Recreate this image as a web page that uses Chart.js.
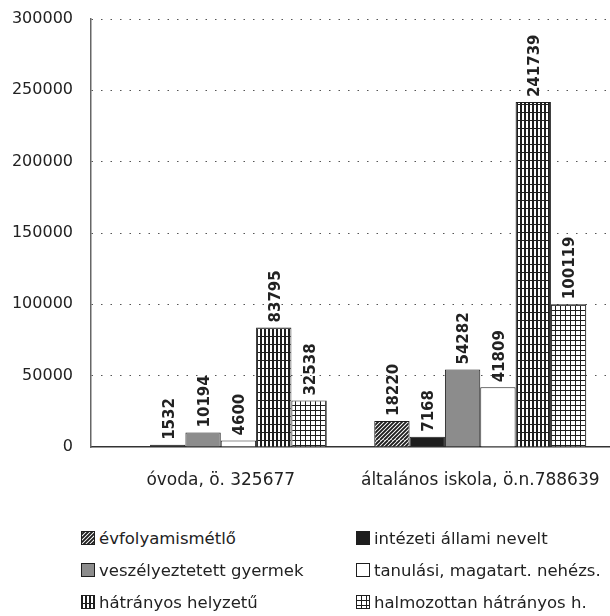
<!DOCTYPE html>
<html lang="hu">
<head>
  <meta charset="UTF-8">
  <title>Óvoda és általános iskola</title>
  <script src="https://cdn.jsdelivr.net/npm/chart.js"></script>
  <style>
    html, body { margin: 0; background: #fff; font-family: "DejaVu Sans", sans-serif; color: #222; overflow: hidden; }
    #wrap { position: relative; width: 610px; height: 616px; overflow: hidden; }
    #box { position: absolute; left: 0; top: 0; width: 610px; height: 500px; }
    #legend { position: absolute; left: 81px; top: 522px; display: grid; grid-template-columns: 275px auto; grid-auto-rows: 32px; font-size: 16.5px; }
    #legend div { display: flex; align-items: center; white-space: nowrap; }
    #legend canvas { width: 14px; height: 14px; margin-right: 4px; }
  </style>
</head>
<body>
  <div id="wrap">
    <div id="box"><canvas id="chart"></canvas></div>
    <div id="legend"></div>
  </div>

  <script>
    const categories = ["óvoda, ö. 325677", "általános iskola, ö.n.788639"];
    const seriesNames = ["évfolyamismétlő", "intézeti állami nevelt", "veszélyeztetett gyermek",
                         "tanulási, magatart. nehézs.", "hátrányos helyzetű", "halmozottan hátrányos h."];
    const evfolyam = [null, 18220];
    const intezeti = [1532, 7168];
    const veszelyez = [10194, 54282];
    const tanulasi = [4600, 41809];
    const hatranyos = [83795, 241739];
    const halmozott = [32538, 100119];
    const yTicks = [0, 50000, 100000, 150000, 200000, 250000, 300000];

    // kitöltési minták (sraffozás)
    function fillTile(kind, g, w, h) {
      g.fillStyle = kind === 'black' ? '#1e1e1e' : kind === 'gray' ? '#8c8c8c' : '#fff';
      g.fillRect(0, 0, w, h);
      g.strokeStyle = '#1e1e1e';
      g.fillStyle = '#1e1e1e';
      if (kind === 'diag') {
        g.lineWidth = 1.9;
        g.beginPath();
        for (let k = -w; k <= w * 2; k += 4) { g.moveTo(k, h); g.lineTo(k + h, 0); }
        g.stroke();
      } else if (kind === 'vert') {
        for (let x = 0; x < w; x += 4) g.fillRect(x, 0, 2, h);
        for (let y = 0; y < h; y += 8) g.fillRect(0, y, w, 1);
      } else if (kind === 'grid') {
        for (let x = 0; x < w; x += 5) g.fillRect(x, 0, 1, h);
        for (let y = 0; y < h; y += 5) g.fillRect(0, y, w, 1);
      }
    }
    function makePattern(kind) {
      const c = document.createElement('canvas');
      c.width = 40; c.height = 40;
      fillTile(kind, c.getContext('2d'), 40, 40);
      return c.getContext('2d').createPattern(c, 'repeat');
    }
    const kinds = ['diag', 'black', 'gray', 'white', 'vert', 'grid'];
    const values = [evfolyam, intezeti, veszelyez, tanulasi, hatranyos, halmozott];

    const barLabels = {
      id: 'barLabels',
      afterDatasetsDraw(chart) {
        const ctx = chart.ctx;
        ctx.save();
        ctx.font = 'bold 15px "DejaVu Sans"';
        ctx.fillStyle = '#222';
        ctx.textAlign = 'left';
        ctx.textBaseline = 'middle';
        chart.data.datasets.forEach((ds, i) => {
          chart.getDatasetMeta(i).data.forEach((bar, j) => {
            if (ds.data[j] == null) return;
            ctx.save();
            ctx.translate(bar.x + 2, bar.y - 5);
            ctx.rotate(-Math.PI / 2);
            ctx.fillText(String(ds.data[j]), 0, 0);
            ctx.restore();
          });
        });
        ctx.restore();
      }
    };

    new Chart(document.getElementById('chart'), {
      type: 'bar',
      data: {
        labels: categories,
        datasets: seriesNames.map((name, i) => ({
          label: name,
          data: values[i],
          backgroundColor: makePattern(kinds[i]),
          borderColor: '#1e1e1e',
          borderWidth: 1,
          categoryPercentage: 0.817,
          barPercentage: 1
        }))
      },
      options: {
        responsive: true,
        maintainAspectRatio: false,
        animation: false,
        layout: { padding: { left: 12, top: 19, right: 0, bottom: 0 } },
        plugins: { legend: { display: false }, tooltip: { enabled: false } },
        scales: {
          x: {
            grid: { display: false },
            border: { color: '#333', width: 1.5 },
            ticks: { color: '#222', padding: 15, maxRotation: 0, minRotation: 0, autoSkip: false,
                     font: { family: 'DejaVu Sans', size: 17 } },
            afterFit: (axis) => { axis.height = 53; axis.paddingLeft = 0; axis.paddingRight = 0; }
          },
          y: {
            min: 0,
            max: 300000,
            afterBuildTicks: (axis) => { axis.ticks = yTicks.map(v => ({ value: v })); },
            grid: {
              drawTicks: false,
              color: (c) => c.tick && c.tick.value === 0 ? 'rgba(0,0,0,0)' : '#555',
              lineWidth: 1
            },
            border: { color: '#666', width: 1.5, dash: [1.5, 8] },
            ticks: { color: '#222', padding: 18, callback: (v) => String(v),
                     font: { family: 'DejaVu Sans', size: 16 } },
            afterFit: (axis) => { axis.width = 79; axis.paddingTop = 0; axis.paddingBottom = 0; }
          }
        }
      },
      plugins: [barLabels]
    });

    // jelmagyarázat: két oszlop
    const legend = document.getElementById('legend');
    seriesNames.forEach((name, i) => {
      const item = document.createElement('div');
      const sw = document.createElement('canvas');
      sw.width = 14; sw.height = 14;
      const g = sw.getContext('2d');
      fillTile(kinds[i], g, 14, 14);
      g.strokeStyle = '#1e1e1e';
      g.lineWidth = 1;
      g.strokeRect(0.5, 0.5, 13, 13);
      const txt = document.createElement('span');
      txt.textContent = name;
      item.appendChild(sw);
      item.appendChild(txt);
      legend.appendChild(item);
    });
  </script>
</body>
</html>
